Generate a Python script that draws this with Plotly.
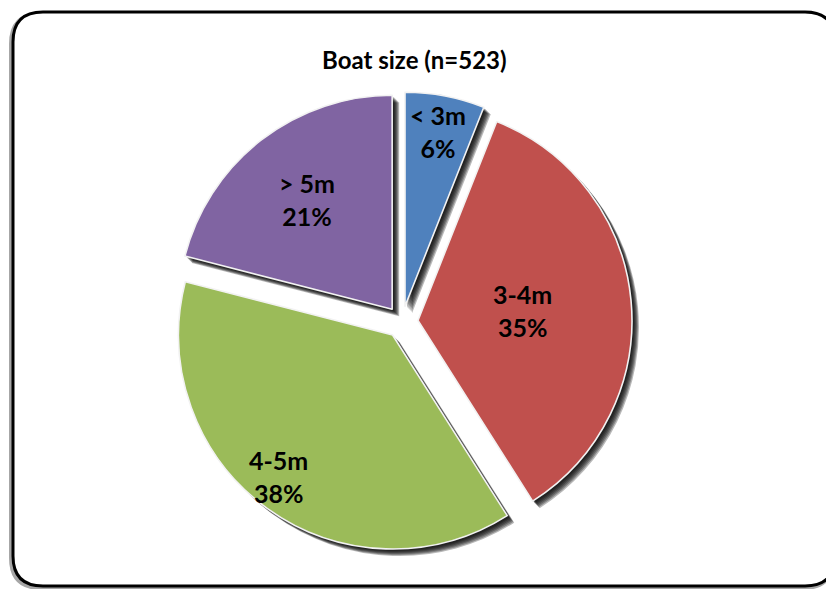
import math
import plotly.graph_objects as go

# Boat size distribution
categories = ["< 3m", "3-4m", "4-5m", "> 5m"]
shares = [6, 35, 38, 21]
colors = ["#4F81BD", "#C0504D", "#9BBB59", "#8064A2"]
title_text = "Boat size (n=523)"

W, H = 826, 589
CX, CY = 402, 322          # pie centre in pixels (from top-left)
R = 214                    # pie radius in pixels
PULL = 0.075               # explode fraction of radius
LABEL_RADIUS = [0.83, 0.49, 0.85, 0.65]   # label distance from apex, fraction of R
LABEL_TURN = [0.0, 0.0, 0.05, 0.0]        # small angular nudge of labels (radians)

half = R * (1 + PULL)


def domain(dx=0.0, dy=0.0):
    cx, cy = CX + dx, H - (CY + dy)
    return dict(x=[(cx - half) / W, (cx + half) / W],
                y=[(cy - half) / H, (cy + half) / H])


fig = go.Figure()

# soft drop shadow: stacked translucent black pies offset down-right
for d in [7, 6, 5, 4, 3, 2]:
    fig.add_trace(go.Pie(
        labels=categories, values=shares, sort=False, direction="clockwise",
        rotation=0, pull=[PULL] * len(shares), domain=domain(d, d),
        marker=dict(colors=["rgba(0,0,0,0.28)"] * len(shares), line=dict(width=0)),
        textinfo="none", hoverinfo="skip", showlegend=False,
    ))

fig.add_trace(go.Pie(
    labels=categories, values=shares, sort=False, direction="clockwise",
    rotation=0, pull=[PULL] * len(shares), domain=domain(),
    marker=dict(colors=colors, line=dict(color="#F2F2F2", width=1.6)),
    textinfo="none", showlegend=False,
))

# slice labels placed along each slice's mid-angle
total = sum(shares)
cum = 0
annotations = []
for lab, v, k, t in zip(categories, shares, LABEL_RADIUS, LABEL_TURN):
    mid = (cum + v / 2) / total * 2 * math.pi
    cum += v
    apex_x = CX + PULL * R * math.sin(mid)
    apex_y = CY - PULL * R * math.cos(mid)
    px = apex_x + k * R * math.sin(mid + t)
    py = apex_y - k * R * math.cos(mid + t)
    annotations.append(dict(
        x=px / W, y=1 - py / H, xref="paper", yref="paper",
        text=f"<b>{lab}<br>{round(v / total * 100)}%</b>",
        showarrow=False, font=dict(family="Lato", size=25, color="black"),
        xanchor="center", yanchor="middle",
    ))

annotations.append(dict(
    x=414 / W, y=1 - 60 / H, xref="paper", yref="paper",
    text=f"<b>{title_text}</b>", showarrow=False,
    font=dict(family="Lato", size=24, color="black"),
    xanchor="center", yanchor="middle",
))


def rounded_rect(x0, y0, x1, y1, r):
    def px(x):
        return x / W

    def py(y):
        return 1 - y / H
    return (f"M {px(x0 + r)} {py(y0)} L {px(x1 - r)} {py(y0)} "
            f"Q {px(x1)} {py(y0)} {px(x1)} {py(y0 + r)} "
            f"L {px(x1)} {py(y1 - r)} Q {px(x1)} {py(y1)} {px(x1 - r)} {py(y1)} "
            f"L {px(x0 + r)} {py(y1)} Q {px(x0)} {py(y1)} {px(x0)} {py(y1 - r)} "
            f"L {px(x0)} {py(y0 + r)} Q {px(x0)} {py(y0)} {px(x0 + r)} {py(y0)} Z")


shapes = [
    dict(type="path", xref="paper", yref="paper", layer="below",
         path=rounded_rect(11, 14, 833, 588, 30),
         line=dict(color="rgba(0,0,0,0.35)", width=4)),
    dict(type="path", xref="paper", yref="paper", layer="below",
         path=rounded_rect(13, 12, 835, 586, 30),
         line=dict(color="black", width=3), fillcolor="white"),
]

fig.update_layout(
    width=W, height=H, margin=dict(l=0, r=0, t=0, b=0),
    paper_bgcolor="white", plot_bgcolor="white",
    annotations=annotations, shapes=shapes, showlegend=False,
)

fig.write_html("out.html")
